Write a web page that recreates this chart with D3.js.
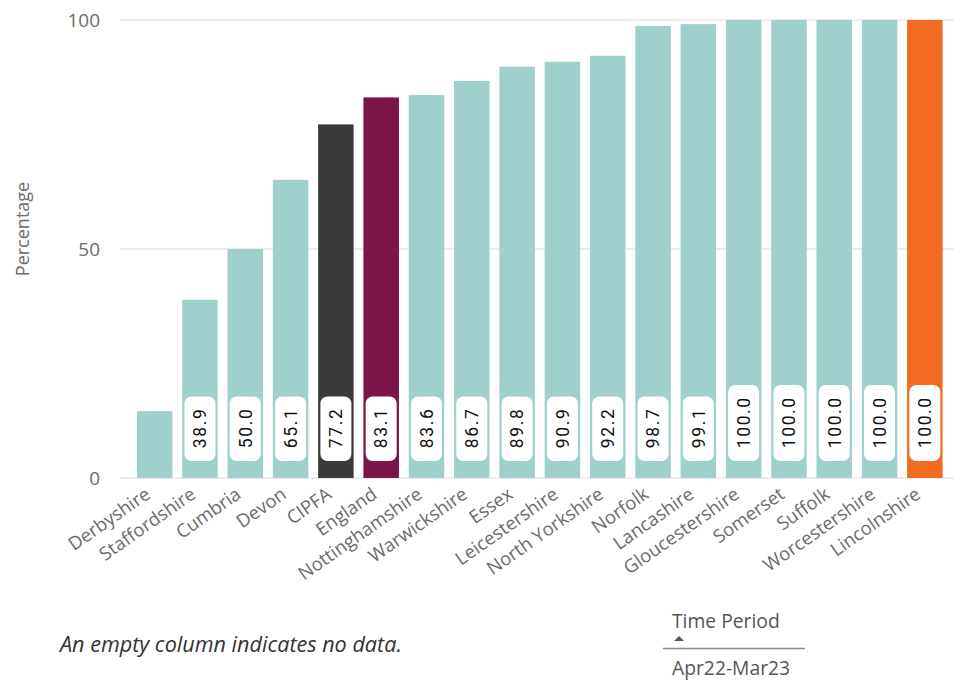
<!DOCTYPE html>
<html>
<head>
<meta charset="utf-8">
<script src="https://cdn.jsdelivr.net/npm/d3@7"></script>
<style>
  html, body { margin: 0; padding: 0; background: #fff; }
  svg { display: block; }
</style>
</head>
<body>
<svg id="chart" width="954" height="681"></svg>
<script>
// Authorities, ordered by value
const categories = ["Derbyshire", "Staffordshire", "Cumbria", "Devon", "CIPFA", "England",
  "Nottinghamshire", "Warwickshire", "Essex", "Leicestershire", "North Yorkshire", "Norfolk",
  "Lancashire", "Gloucestershire", "Somerset", "Suffolk", "Worcestershire", "Lincolnshire"];
const values = [14.6, 38.9, 50.0, 65.1, 77.2, 83.1, 83.6, 86.7, 89.8, 90.9, 92.2, 98.7,
  99.1, 100.0, 100.0, 100.0, 100.0, 100.0];
// Bar role: comparator averages and the highlighted authority get their own colour
const roles = ["la", "la", "la", "la", "cipfa", "england", "la", "la", "la", "la", "la", "la",
  "la", "la", "la", "la", "la", "highlight"];
const yTicks = [0, 50, 100];
const legendTitle = "Time Period";
const legendItems = ["Apr22-Mar23"];
const yTitle = "Percentage";
const footnote = "An empty column indicates no data.";

const colours = { la: "#9fd0cc", cipfa: "#3a3a3a", england: "#7c1548", highlight: "#f26b21" };
const axisFont = "'Open Sans', 'Noto Sans', sans-serif";

const svg = d3.select("#chart");
const data = categories.map((c, i) => ({ name: c, value: values[i], role: roles[i] }));

const x = d3.scaleBand().domain(categories).range([132, 947.5])
  .paddingInner(0.216).paddingOuter(0.108);
const y = d3.scaleLinear().domain([0, 100]).range([478, 20]);

// Horizontal gridlines
svg.append("g").selectAll("line").data(yTicks).join("line")
  .attr("x1", 120).attr("x2", 954)
  .attr("y1", d => y(d)).attr("y2", d => y(d))
  .attr("stroke", "#ececec").attr("stroke-width", 2);

// Y axis tick labels
const yAxis = svg.append("g").attr("transform", "translate(100,0)")
  .call(d3.axisLeft(y).tickValues(yTicks).tickSize(0).tickPadding(0).tickFormat(d3.format("d")));
yAxis.select(".domain").remove();
yAxis.selectAll("text").attr("font-family", axisFont).attr("font-size", 19)
  .attr("fill", "#6b6b6b");

svg.append("text")
  .attr("transform", "translate(29,229) rotate(-90)")
  .attr("text-anchor", "middle")
  .attr("font-family", axisFont).attr("font-size", 18).attr("fill", "#6b6b6b")
  .text(yTitle);

// Bars
svg.append("g").selectAll("rect").data(data).join("rect")
  .attr("x", d => x(d.name)).attr("width", x.bandwidth())
  .attr("y", d => y(d.value)).attr("height", d => y(0) - y(d.value))
  .attr("fill", d => colours[d.role]);

// Value labels inside the base of each bar (only where they fit)
const labelFont = "'Roboto', 'Noto Sans', sans-serif";
const lab = svg.append("g").selectAll("g").data(data).join("g")
  .attr("transform", d => `translate(${x(d.name) + x.bandwidth() / 2},${y(0) - 17})`);
lab.each(function (d) {
  const g = d3.select(this);
  const txt = d3.format(".1f")(d.value);
  const t = g.append("text")
    .attr("transform", "rotate(-90)")
    .attr("x", 0).attr("y", 0)
    .attr("dy", "0.36em")
    .attr("font-family", labelFont).attr("font-size", 17.5)
    .attr("letter-spacing", 1.6).attr("fill", "#111")
    .text(txt);
  const w = t.node().getComputedTextLength();
  const boxH = w + 24;
  const barH = y(0) - y(d.value);
  if (boxH + 17 + 6 > barH) { t.remove(); return; }
  t.attr("x", boxH / 2 + 0.8).attr("text-anchor", "middle");
  g.insert("rect", "text")
    .attr("x", -15.5).attr("y", -boxH).attr("width", 31).attr("height", boxH)
    .attr("rx", 7).attr("ry", 7).attr("fill", "#fff");
});

// Category labels, rotated
const xAxis = svg.append("g").attr("transform", `translate(0,${y(0)})`)
  .call(d3.axisBottom(x).tickSize(0).tickPadding(0));
xAxis.select(".domain").remove();
xAxis.selectAll("text")
  .attr("font-family", axisFont).attr("font-size", 18.5).attr("fill", "#6b6b6b")
  .attr("text-anchor", "end")
  .attr("dy", 0)
  .attr("transform", "translate(-3,19) rotate(-35)");

// Footnote
svg.append("text").attr("x", 60).attr("y", 652)
  .attr("font-family", axisFont).attr("font-size", 21.6).attr("font-style", "italic")
  .attr("fill", "#333").text(footnote);

// Legend
const lg = svg.append("g").attr("transform", "translate(663,0)");
lg.append("text").attr("x", 9).attr("y", 628)
  .attr("font-family", axisFont).attr("font-size", 19.3).attr("fill", "#555").text(legendTitle);
lg.append("path").attr("d", "M11,641 L16,636 L21,641 Z").attr("fill", "#555");
lg.append("line").attr("x1", 0).attr("x2", 142).attr("y1", 648.5).attr("y2", 648.5)
  .attr("stroke", "#888").attr("stroke-width", 1.5);
lg.selectAll("text.item").data(legendItems).join("text").attr("class", "item")
  .attr("x", 9).attr("y", (d, i) => 675 + i * 22)
  .attr("font-family", axisFont).attr("font-size", 19.3).attr("fill", "#555").text(d => d);
</script>
</body>
</html>
